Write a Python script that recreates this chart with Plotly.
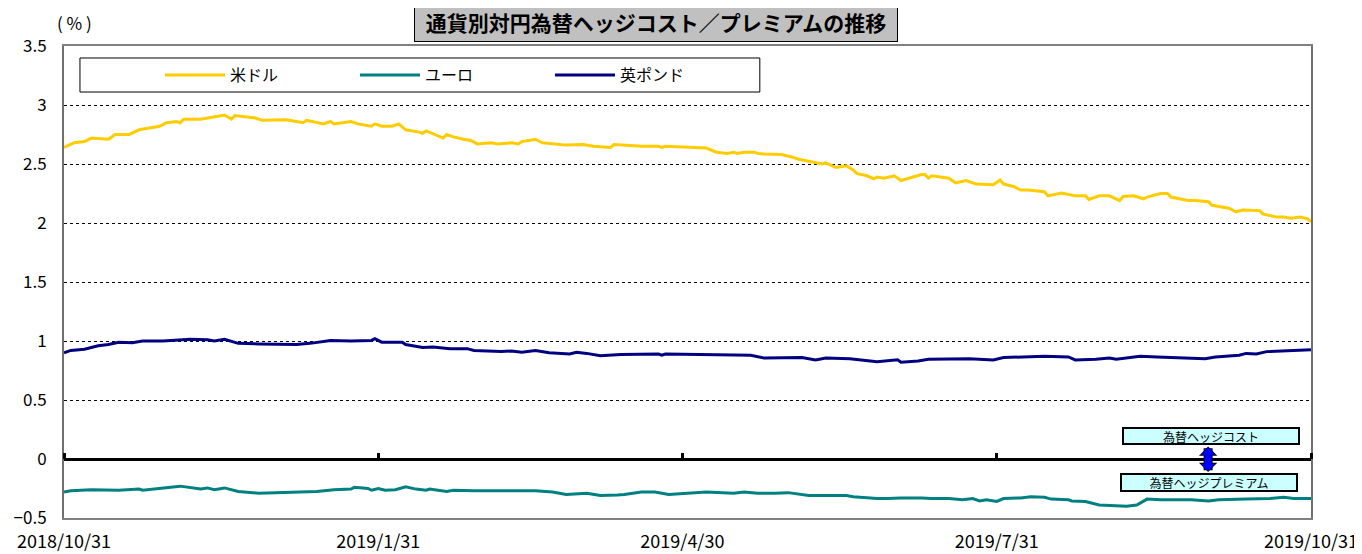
import pandas as pd
import plotly.graph_objects as go

BASE = "2018-10-31"
# day offsets from 2018/10/31 and values (%)
usd_days = [0, 3, 6, 8, 13, 15, 19, 22, 28, 30, 33, 34, 35, 40, 47, 49, 50, 56, 58, 65, 68, 70, 71, 76, 78, 79,
            84, 86, 90, 91, 93, 96, 98, 100, 104, 105, 106, 111, 112, 114, 117, 119, 121, 125, 127, 131, 133,
            134, 136, 138, 140, 145, 147, 152, 155, 160, 161, 167, 169, 174, 175, 176, 188, 191, 194, 196, 197,
            199, 202, 203, 205, 210, 213, 215, 217, 218, 222, 223, 225, 226, 229, 231, 232, 235, 237, 238, 240,
            243, 245, 248, 251, 252, 253, 254, 259, 261, 264, 267, 272, 274, 275, 278, 280, 282, 287, 288, 292,
            296, 299, 300, 303, 306, 309, 310, 313, 316, 317, 321, 323, 324, 329, 331, 335, 336, 341, 343, 345,
            350, 351, 355, 357, 359, 362, 364, 365]
usd_vals = [2.64, 2.68, 2.69, 2.72, 2.71, 2.75, 2.75, 2.79, 2.82, 2.85, 2.86, 2.85, 2.88, 2.88, 2.915, 2.88, 2.91,
            2.89, 2.87, 2.875, 2.86, 2.85, 2.87, 2.84, 2.86, 2.84, 2.86, 2.84, 2.82, 2.84, 2.82, 2.82, 2.84, 2.79,
            2.77, 2.76, 2.78, 2.72, 2.75, 2.73, 2.71, 2.70, 2.67, 2.68, 2.67, 2.68, 2.67, 2.69, 2.70, 2.71, 2.68,
            2.67, 2.66, 2.665, 2.65, 2.64, 2.665, 2.655, 2.65, 2.65, 2.64, 2.65, 2.635, 2.60, 2.59, 2.60, 2.59,
            2.60, 2.60, 2.59, 2.585, 2.58, 2.56, 2.54, 2.53, 2.52, 2.50, 2.51, 2.48, 2.47, 2.485, 2.45, 2.42, 2.40,
            2.375, 2.39, 2.38, 2.40, 2.36, 2.385, 2.41, 2.41, 2.38, 2.40, 2.38, 2.34, 2.36, 2.33, 2.325, 2.365,
            2.33, 2.31, 2.28, 2.28, 2.265, 2.23, 2.255, 2.23, 2.23, 2.20, 2.23, 2.23, 2.19, 2.225, 2.23, 2.205,
            2.22, 2.25, 2.25, 2.22, 2.19, 2.19, 2.18, 2.15, 2.125, 2.095, 2.11, 2.105, 2.075, 2.05, 2.05, 2.04,
            2.05, 2.035, 2.01]

eur_days = [0, 2, 8, 16, 22, 23, 34, 40, 42, 44, 47, 51, 57, 67, 74, 79, 84, 85, 89, 90, 92, 94, 97, 100, 103,
            106, 107, 112, 114, 120, 125, 132, 138, 143, 147, 153, 157, 162, 164, 169, 173, 175, 177, 188, 196,
            199, 203, 208, 212, 218, 221, 225, 229, 231, 238, 241, 245, 251, 254, 259, 263, 266, 268, 270, 273,
            275, 280, 283, 287, 289, 294, 295, 299, 303, 308, 311, 314, 316, 317, 321, 330, 335, 338, 346, 353,
            357, 360, 365]
eur_vals = [-0.28, -0.27, -0.26, -0.265, -0.255, -0.265, -0.23, -0.255, -0.245, -0.26, -0.245, -0.275, -0.29,
            -0.28, -0.275, -0.26, -0.255, -0.24, -0.25, -0.265, -0.25, -0.265, -0.26, -0.235, -0.255, -0.265,
            -0.255, -0.275, -0.265, -0.27, -0.27, -0.265, -0.27, -0.28, -0.30, -0.29, -0.31, -0.305, -0.30,
            -0.28, -0.28, -0.29, -0.30, -0.28, -0.29, -0.28, -0.29, -0.29, -0.285, -0.31, -0.31, -0.305, -0.31,
            -0.32, -0.335, -0.335, -0.33, -0.33, -0.335, -0.335, -0.345, -0.335, -0.355, -0.345, -0.36, -0.335,
            -0.33, -0.32, -0.325, -0.34, -0.345, -0.355, -0.36, -0.39, -0.40, -0.40, -0.39, -0.355, -0.34,
            -0.345, -0.345, -0.355, -0.345, -0.34, -0.335, -0.325, -0.335, -0.335]

gbp_days = [0, 2, 6, 10, 13, 16, 20, 23, 29, 37, 42, 44, 47, 49, 51, 57, 68, 72, 78, 84, 90, 91, 93, 99, 100,
            105, 108, 113, 118, 120, 128, 131, 134, 138, 142, 148, 150, 153, 157, 163, 169, 174, 175, 176, 186,
            197, 201, 205, 216, 220, 223, 230, 234, 238, 244, 245, 250, 253, 265, 272, 275, 287, 294, 296, 302,
            306, 308, 315, 320, 328, 334, 337, 344, 346, 349, 352, 359, 365]
gbp_vals = [0.90, 0.92, 0.93, 0.96, 0.97, 0.99, 0.985, 1.0, 1.0, 1.015, 1.01, 1.0, 1.015, 1.0, 0.98, 0.975, 0.97,
            0.98, 1.005, 1.0, 1.005, 1.02, 0.99, 0.99, 0.97, 0.945, 0.95, 0.935, 0.935, 0.92, 0.91, 0.915, 0.905,
            0.92, 0.90, 0.89, 0.905, 0.895, 0.875, 0.885, 0.89, 0.89, 0.88, 0.89, 0.885, 0.885, 0.88, 0.855,
            0.86, 0.84, 0.855, 0.85, 0.835, 0.825, 0.84, 0.82, 0.83, 0.845, 0.85, 0.84, 0.86, 0.87, 0.865, 0.84,
            0.845, 0.855, 0.845, 0.87, 0.865, 0.855, 0.85, 0.865, 0.88, 0.895, 0.89, 0.91, 0.915, 0.925]

series_names = ["米ドル", "ユーロ", "英ポンド"]
series_colors = ["#FFCC00", "#008080", "#000080"]

x_tickvals = ["2018-10-31", "2019-01-31", "2019-04-30", "2019-07-31", "2019-10-31"]
x_ticktext = ["2018/10/31", "2019/1/31", "2019/4/30", "2019/7/31", "2019/10/31"]
y_tickvals = [-0.5, 0, 0.5, 1, 1.5, 2, 2.5, 3, 3.5]
y_ticktext = ["−0.5", "0", "0.5", "1", "1.5", "2", "2.5", "3", "3.5"]


def to_dates(days):
    return pd.Timestamp(BASE) + pd.to_timedelta(days, unit="D")


FONT = "Noto Sans CJK JP"
fig = go.Figure()
for days, vals, name, col in zip([usd_days, eur_days, gbp_days], [usd_vals, eur_vals, gbp_vals],
                                 series_names, series_colors):
    fig.add_trace(go.Scatter(x=to_dates(days), y=vals, mode="lines", name=name,
                             line=dict(color=col, width=3), hoverinfo="skip"))

# invisible trace so the zero-line tick axis (x2) gets drawn
fig.add_trace(go.Scatter(x=x_tickvals, y=[None] * len(x_tickvals), xaxis="x2", yaxis="y",
                         mode="lines", showlegend=False, hoverinfo="skip"))

fig.update_layout(
    width=1354, height=546,
    margin=dict(l=56, r=51, t=38, b=36),
    paper_bgcolor="white", plot_bgcolor="white",
    font=dict(family=FONT, color="black"),
    showlegend=True,
    legend=dict(orientation="h", x=0.077, y=0.9386, xanchor="left", yanchor="middle",
                bgcolor="rgba(0,0,0,0)", borderwidth=0, font=dict(size=16, family=FONT),
                entrywidth=120, entrywidthmode="pixels", itemwidth=60),
    xaxis=dict(type="date", range=["2018-10-31", "2019-10-31"], tickvals=x_tickvals, ticktext=x_ticktext,
               tickfont=dict(size=18, family=FONT), ticks="", showgrid=False, zeroline=False,
               showline=True, linecolor="#808080", linewidth=2, mirror=True, ticklabelstandoff=6,
               automargin=False),
    xaxis2=dict(type="date", range=["2018-10-31", "2019-10-31"], tickvals=x_tickvals, overlaying="x",
                anchor="free", position=0.125, side="top", ticks="outside", ticklen=6, tickwidth=3,
                tickcolor="black", showticklabels=False, showgrid=False, showline=False, zeroline=False,
                automargin=False),
    yaxis=dict(range=[-0.5, 3.5], tickvals=y_tickvals, ticktext=y_ticktext, tickfont=dict(size=17, family=FONT),
               showgrid=True, gridcolor="black", griddash="dot", gridwidth=1,
               zeroline=True, zerolinecolor="black", zerolinewidth=3, ticklabelstandoff=12,
               showline=True, linecolor="#707070", linewidth=2, mirror=True, ticks="", automargin=False),
)

# legend frame
fig.add_shape(type="rect", xref="paper", yref="paper", x0=0.0128, x1=0.558, y0=0.9025, y1=0.9746,
              line=dict(color="black", width=1), fillcolor="rgba(0,0,0,0)", layer="below")

# title box
fig.add_annotation(xref="paper", yref="paper", x=0.4747, y=1.0519, xanchor="center", yanchor="middle",
                   text="<b>通貨別対円為替ヘッジコスト／プレミアムの推移</b>", showarrow=False,
                   font=dict(size=21, family=FONT, color="black"), bgcolor="#C0C0C0",
                   bordercolor="black", borderwidth=1, borderpad=3, width=476, height=33)
# unit label
fig.add_annotation(xref="paper", yref="paper", x=0.0088, y=1.0508, xanchor="center", yanchor="middle",
                   text="( % )", showarrow=False, font=dict(size=17, family=FONT))

# hedge cost / premium boxes
fig.add_annotation(xref="paper", yref="paper", x=0.92, y=0.1737, xanchor="center", yanchor="middle",
                   text="為替ヘッジコスト", showarrow=False, font=dict(size=12, family=FONT),
                   bgcolor="#CCFFFF", bordercolor="black", borderwidth=2, borderpad=0, width=174, height=14)
fig.add_annotation(xref="paper", yref="paper", x=0.918, y=0.0752, xanchor="center", yanchor="middle",
                   text="為替ヘッジプレミアム", showarrow=False, font=dict(size=12, family=FONT),
                   bgcolor="#CCFFFF", bordercolor="black", borderwidth=2, borderpad=0, width=174, height=15)
# double arrow: black outline underneath, blue on top
fig.add_annotation(xref="paper", yref="paper", x=0.9175, y=0.0975, ax=0, ay=-27, axref="pixel", ayref="pixel",
                   text="", showarrow=True, arrowhead=1, arrowside="end+start", arrowsize=0.34,
                   arrowwidth=9, arrowcolor="black")
fig.add_annotation(xref="paper", yref="paper", x=0.9175, y=0.0996, ax=0, ay=-25, axref="pixel", ayref="pixel",
                   text="", showarrow=True, arrowhead=1, arrowside="end+start", arrowsize=0.34,
                   arrowwidth=7, arrowcolor="#0000FF")

fig.write_html("out.html")
